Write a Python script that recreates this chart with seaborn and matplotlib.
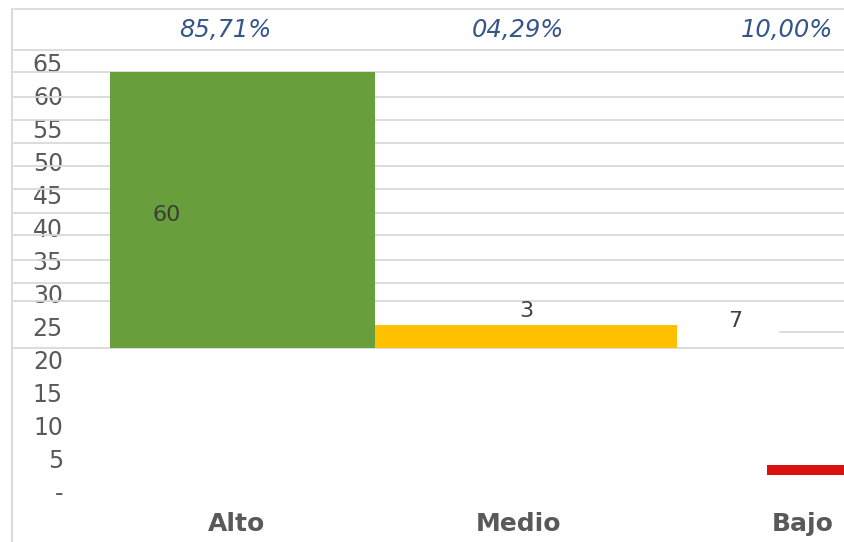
import matplotlib
matplotlib.use("Agg")
import matplotlib.pyplot as plt
import seaborn as sns
import pandas as pd

# ---- data ----
categories = ["Alto", "Medio", "Bajo"]
counts = [60, 3, 7]                      # value labels
bar_base = [21.8, 21.8, 2.6]             # drawn bar bottoms (as seen)
bar_top = [63.6, 25.3, 4.1]              # drawn bar tops (as seen)
y_ticks = list(range(0, 70, 5))
y_tick_labels = ["-" if v == 0 else str(v) for v in y_ticks]
grid_levels = [66.97, 63.64, 59.85, 56.36, 52.88, 49.39, 45.91, 42.27,
               38.94, 35.15, 31.67, 28.94, 21.82]

# ---- style / layout ----
bar_colors = ["#689E3C", "#FFC000", "#DD1010"]
bar_widths = [0.935, 1.065, 0.30]
label_xy = [(-0.266, 42.0), (1.0, 27.4), (1.737, 25.9)]   # value label anchors
label_colors = ["#3A3F36", "#404040", "#404040"]
pct_y = 70.0
pct_dx = [-0.06, -0.03, -0.08]
xlabel_dx = [-0.02, -0.025, -0.025]

sns.set_theme(style="white")
plt.rcParams["font.family"] = ["DejaVu Sans"]

fig = plt.figure(figsize=(8.45, 5.42), dpi=100)
ax = fig.add_axes([12 / 845, 0.0, 1 - 12 / 845, 1 - 9 / 542])

total = sum(counts)
for i, cat in enumerate(categories):
    df = pd.DataFrame({"cat": [cat], "h": [bar_top[i] - bar_base[i]]})
    sns.barplot(data=df, x="cat", y="h", order=categories, ax=ax,
                color=bar_colors[i], saturation=1, width=bar_widths[i],
                bottom=bar_base[i], errorbar=None, linewidth=0, zorder=3)

# gridlines (minor ticks used as grid positions)
ax.set_yticks(grid_levels, minor=True)
ax.yaxis.grid(True, which="minor", color="#D9D9D9", linewidth=1.3, zorder=0)
ax.yaxis.grid(False, which="major")
ax.xaxis.grid(False)
ax.axhline(24.24, xmin=(780 - 12) / 833, xmax=1, color="#D9D9D9",
           linewidth=1.3, zorder=1)

ax.set_ylim(-7.576, 73.18)
ax.set_xlim(-0.813, 2.125)

ax.set_yticks(y_ticks)
ax.set_yticklabels(y_tick_labels)
ax.set_xticks([i + xlabel_dx[i] for i in range(len(categories))])
ax.set_xticklabels(categories)
ax.tick_params(axis="y", which="both", length=0, pad=-36.7,
               labelsize=17, labelcolor="#595959")
ax.tick_params(axis="x", length=0, pad=-21.6, labelsize=18,
               labelcolor="#595959")
for t in ax.get_xticklabels():
    t.set_fontweight("bold")
ax.set_xlabel("")
ax.set_ylabel("")

for s in ["right", "bottom"]:
    ax.spines[s].set_visible(False)
ax.spines["left"].set_color("#DCDCDC")
ax.spines["left"].set_linewidth(1.6)
ax.spines["top"].set_color("#DCDCDC")
ax.spines["top"].set_linewidth(1.3)

# value labels
for i, v in enumerate(counts):
    ax.text(label_xy[i][0], label_xy[i][1], str(v), ha="center", va="center",
            fontsize=16, color=label_colors[i], zorder=5)

# percentage labels
for i, v in enumerate(counts):
    pct = f"{v / total * 100:05.2f}%".replace(".", ",")
    ax.text(i + pct_dx[i], pct_y, pct, ha="center", va="center",
            fontsize=17.5, fontstyle="italic", color="#34568B", zorder=5)

fig.savefig("out.png", dpi=100)
